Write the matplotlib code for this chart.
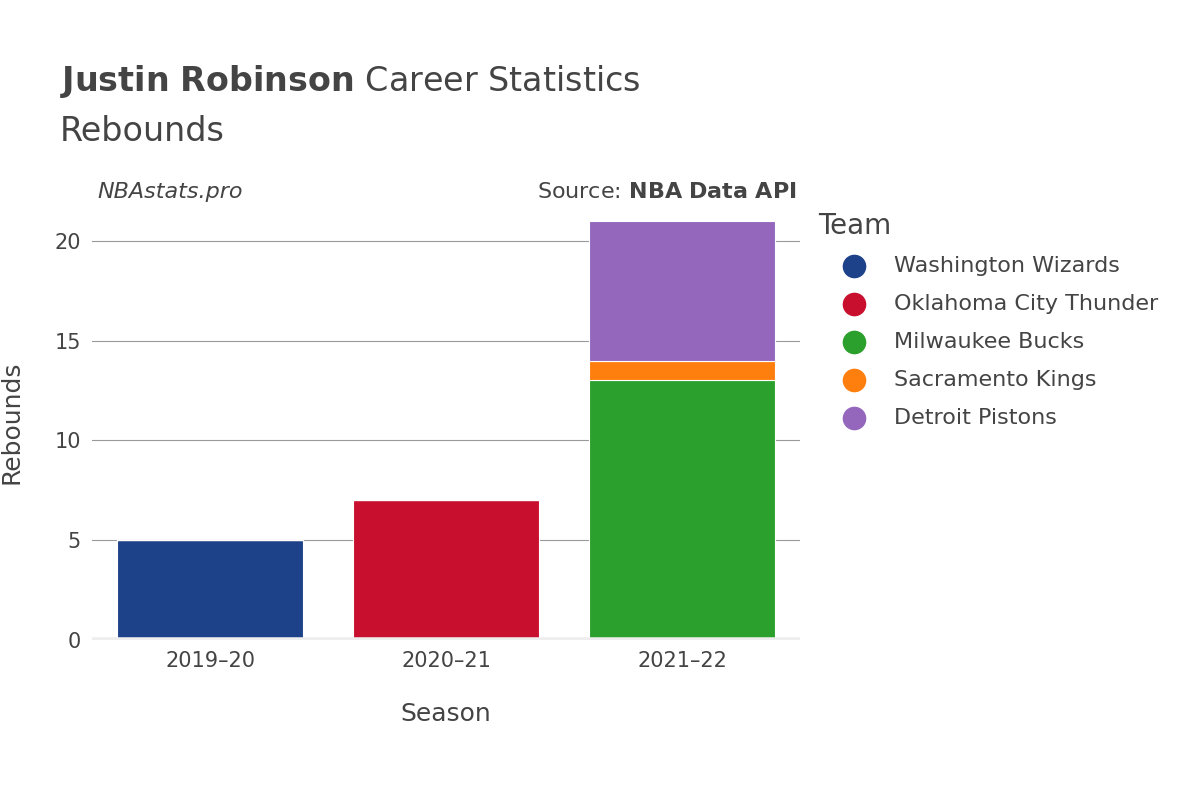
from matplotlib import pyplot as plt
from matplotlib.lines import Line2D

seasons = ['2019\u201320', '2020\u201321', '2021\u201322']
teams = ['Washington Wizards', 'Oklahoma City Thunder', 'Milwaukee Bucks',
         'Sacramento Kings', 'Detroit Pistons']
colors = ['#1d428a', '#c8102e', '#2ca02c', '#ff7f0e', '#9467bd']
# rebounds per team per season
values = {
    'Washington Wizards': [5, 0, 0],
    'Oklahoma City Thunder': [0, 7, 0],
    'Milwaukee Bucks': [0, 0, 13],
    'Sacramento Kings': [0, 0, 1],
    'Detroit Pistons': [0, 0, 7],
}

fig = plt.figure(figsize=(12, 8), dpi=100)
ax = fig.add_axes([0.0767, 0.2, 0.59, 0.544])

x = list(range(len(seasons)))
bottom = [0] * len(seasons)
for team, c in zip(teams, colors):
    v = values[team]
    ax.bar(x, v, width=0.79, bottom=bottom, color=c, edgecolor='white',
           linewidth=0.8, zorder=3)
    bottom = [b + vi for b, vi in zip(bottom, v)]

ax.set_xlim(-0.5, 2.5)
ax.set_ylim(0, 21.8)
ax.set_yticks([0, 5, 10, 15, 20])
ax.set_xticks(x)
ax.set_xticklabels(seasons)
ax.grid(axis='y', color='#999999', linewidth=0.8, zorder=0)
ax.axhline(0, color='#eeeeee', linewidth=4, zorder=4)
for s in ax.spines.values():
    s.set_visible(False)
ax.tick_params(length=0, labelsize=15, colors='#444444', pad=8)
ax.set_xlabel('Season', fontsize=18, color='#444444', labelpad=22)
ax.set_ylabel('Rebounds', fontsize=18, color='#444444', labelpad=22)

fig.text(0.05, 0.875, r'$\bf{Justin\ Robinson}$ Career Statistics', fontsize=24,
         color='#444444', va='bottom')
fig.text(0.05, 0.815, 'Rebounds', fontsize=24, color='#444444', va='bottom')
fig.text(0.081, 0.76, 'NBAstats.pro', fontsize=16, style='italic',
         color='#444444', va='center')
fig.text(0.664, 0.76, r'Source: $\bf{NBA\ Data\ API}$', fontsize=16,
         color='#444444', va='center', ha='right')

fig.text(0.682, 0.717, 'Team', fontsize=20, color='#444444', va='center')
for i, (team, c) in enumerate(zip(teams, colors)):
    y = 0.668 - i * 0.0475
    fig.add_artist(Line2D([0.712], [y], marker='o', markersize=16,
                          color=c, transform=fig.transFigure))
    fig.text(0.745, y, team, fontsize=16, color='#444444', va='center')

fig.savefig('out.png')
